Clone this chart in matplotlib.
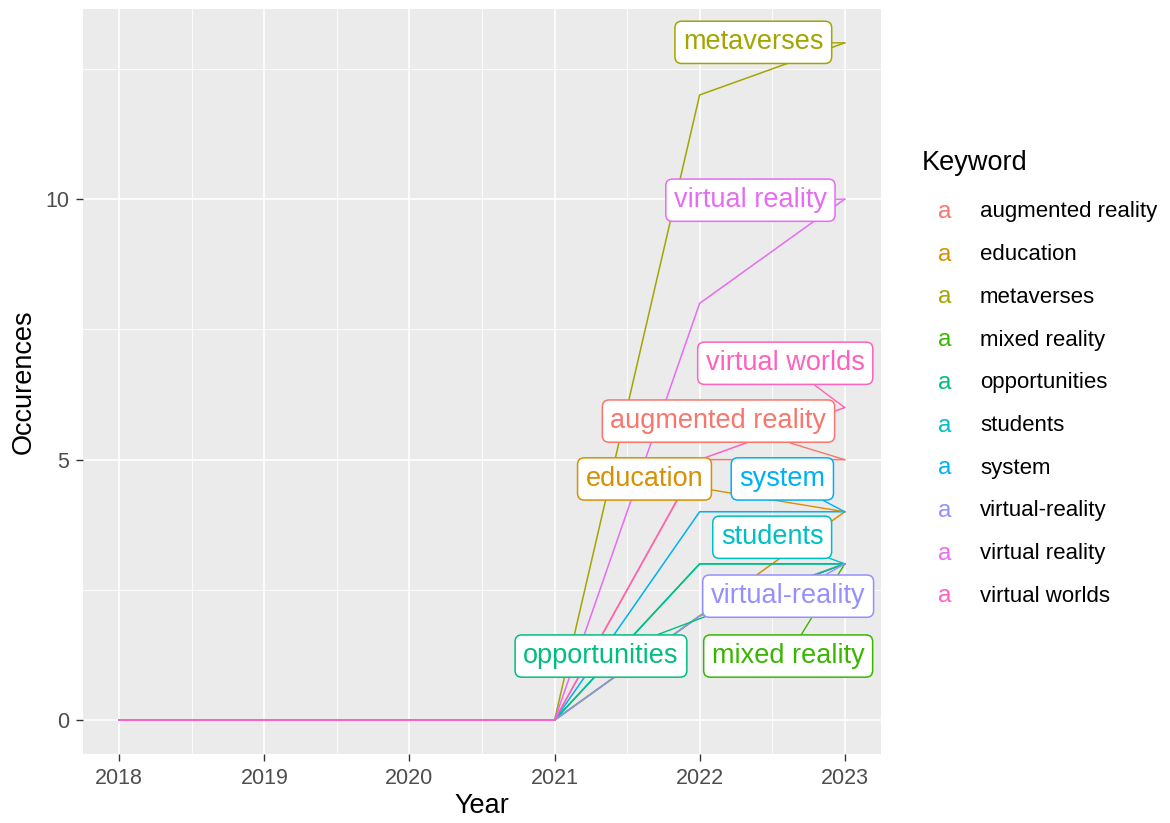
import numpy as np
import matplotlib
matplotlib.use("Agg")
import matplotlib.pyplot as plt

plt.rcParams['font.family'] = ['Liberation Sans', 'DejaVu Sans']

years = [2018, 2019, 2020, 2021, 2022, 2023]
keywords = ['augmented reality', 'education', 'metaverses', 'mixed reality',
            'opportunities', 'students', 'system', 'virtual-reality',
            'virtual reality', 'virtual worlds']
augmented_reality = [0, 0, 0, 0, 5, 5]
education = [0, 0, 0, 0, 2, 4]
metaverses = [0, 0, 0, 0, 12, 13]
mixed_reality = [0, 0, 0, 0, 2, 3]
opportunities = [0, 0, 0, 0, 3, 3]
students = [0, 0, 0, 0, 3, 3]
system = [0, 0, 0, 0, 4, 4]
virtual_reality_dash = [0, 0, 0, 0, 2, 3]
virtual_reality = [0, 0, 0, 0, 8, 10]
virtual_worlds = [0, 0, 0, 0, 5, 6]

series = [augmented_reality, education, metaverses, mixed_reality, opportunities,
          students, system, virtual_reality_dash, virtual_reality, virtual_worlds]

# ggplot default hue palette for 10 groups
colors = ['#F8766D', '#D89000', '#A3A500', '#39B600', '#00BF7D',
          '#00BFC4', '#00B0F6', '#9590FF', '#E76BF3', '#FF62BC']

# where the repelled labels ended up (data coords)
label_pos = {
    'augmented reality': (2022.13, 5.74),
    'education': (2021.62, 4.63),
    'metaverses': (2022.37, 13.01),
    'mixed reality': (2022.61, 1.23),
    'opportunities': (2021.32, 1.23),
    'students': (2022.50, 3.51),
    'system': (2022.57, 4.63),
    'virtual-reality': (2022.61, 2.38),
    'virtual reality': (2022.35, 9.98),
    'virtual worlds': (2022.59, 6.85),
}

fig = plt.figure(figsize=(11.7, 8.23), dpi=100)
ax = fig.add_axes([83 / 1170, 1 - 754 / 823, (881 - 83) / 1170, (754 - 9) / 823])
ax.set_facecolor('#EBEBEB')

# lines (students under opportunities, as in the original)
order = [0, 1, 2, 3, 5, 4, 6, 7, 8, 9]
for i in order:
    ax.plot(years, series[i], color=colors[i], lw=1.1, zorder=3)

# labels with leader segments to the last point
for i, kw in enumerate(keywords):
    ax.annotate(kw, xy=(years[-1], series[i][-1]), xytext=label_pos[kw],
                ha='center', va='center', fontsize=19.5, color=colors[i],
                bbox=dict(boxstyle='round,pad=0.3,rounding_size=0.25',
                          fc='white', ec=colors[i], lw=1.1),
                arrowprops=dict(arrowstyle='-', color=colors[i], lw=1.0,
                                shrinkA=0, shrinkB=0),
                zorder=5 + i)

ax.set_xlim(2017.75, 2023.25)
ax.set_ylim(-0.65, 13.65)
ax.set_xticks(years)
ax.set_yticks([0, 5, 10])
ax.set_xticks([2018.5, 2019.5, 2020.5, 2021.5, 2022.5], minor=True)
ax.set_yticks([2.5, 7.5, 12.5], minor=True)
ax.grid(which='major', color='white', lw=1.2, zorder=1)
ax.grid(which='minor', color='white', lw=0.6, zorder=1)
ax.set_axisbelow(True)
for s in ax.spines.values():
    s.set_visible(False)
ax.tick_params(which='major', length=5, width=1, color='#333333',
               labelsize=15.5, labelcolor='#4D4D4D', pad=5)
ax.tick_params(which='minor', length=0)
ax.set_xlabel('Year', fontsize=19.5, color='black', labelpad=3)
ax.set_ylabel('Occurences', fontsize=19.5, color='black', labelpad=6)

# legend built by hand: coloured "a" keys like ggplot's label legend
fig.text(922 / 1170, 1 - 163 / 823, 'Keyword', fontsize=19.5, va='center', ha='left')
for i, kw in enumerate(keywords):
    y = 1 - (212 + i * 42.7) / 823
    fig.text(945 / 1170, y, 'a', fontsize=17.5, color=colors[i], va='center', ha='center')
    fig.text(980 / 1170, y, kw, fontsize=16, color='black', va='center', ha='left')

fig.savefig('out.png', dpi=100)
